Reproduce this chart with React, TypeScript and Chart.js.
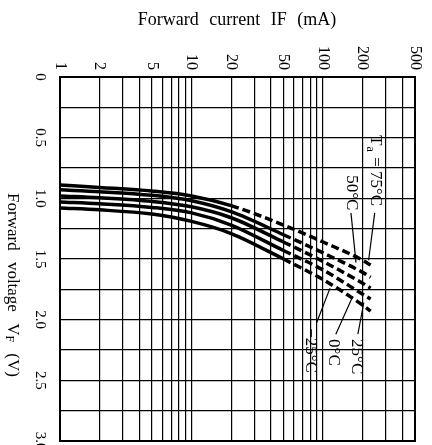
import React, { useEffect, useRef } from "react";
import { Chart, registerables } from "chart.js";

Chart.register(...registerables);

// Grid lines of the log current axis (mA)
const currentGrid = [1, 2, 3, 4, 5, 6, 7, 8, 9, 10, 20, 30, 40, 50, 60, 70, 80, 90, 100, 200, 300, 400, 500];
// Labelled current ticks (mA)
const currentTickLabels = [1, 2, 5, 10, 20, 50, 100, 200, 500];
// Voltage tick labels (V)
const voltageTickValues = [0, 0.5, 1.0, 1.5, 2.0, 2.5, 3.0];
const voltageTickLabels = ["0", "0.5", "1.0", "1.5", "2.0", "2.5", "3.0"];

// Forward current sample points (mA)
const forwardCurrent = [1, 2, 5, 10, 20, 50, 100, 200, 230];
// Forward voltage (V) per ambient temperature
const vf75 = [0.89, 0.91, 0.94, 0.98, 1.06, 1.22, 1.36, 1.51, 1.55];
const vf50 = [0.93, 0.945, 0.975, 1.02, 1.11, 1.3, 1.45, 1.61, 1.65];
const vf25 = [0.98, 0.995, 1.025, 1.07, 1.16, 1.36, 1.52, 1.7, 1.74];
const vf0 = [1.03, 1.045, 1.075, 1.12, 1.22, 1.43, 1.59, 1.79, 1.83];
const vfm25 = [1.08, 1.095, 1.13, 1.19, 1.29, 1.5, 1.67, 1.88, 1.93];
const seriesNames = ["75°C", "50°C", "25°C", "0°C", "−25°C"];
const seriesValues = [vf75, vf50, vf25, vf0, vfm25];
// current above which each curve is drawn dashed (mA)
const dashFrom = [20, 50, 50, 50, 50];

// Curve annotations: label anchor (current mA, voltage V) and leader line ends
const annoTexts = ["Ta = 75°C", "50°C", "−25°C", "0°C", "25°C"];
const annoCurrent = [251, 163, 80, 119, 180];
const annoVoltage = [0.48, 0.81, 2.07, 2.16, 2.16];
const leaderFromCurrent = [247, 163, 89, 125, 184];
const leaderFromVoltage = [1.12, 1.12, 2.03, 2.12, 2.12];
const leaderToCurrent = [222, 178, 113, 168, 204];
const leaderToVoltage = [1.51, 1.53, 1.74, 1.81, 1.86];

const SERIF = "'Liberation Serif', 'DejaVu Serif', serif";

const drawPlugin = {
  id: "datasheetDecor",
  afterDraw(chart: any) {
    const { ctx, chartArea } = chart;
    const xs = chart.scales.x;
    const ys = chart.scales.y;
    ctx.save();
    // frame
    ctx.strokeStyle = "#000";
    ctx.lineWidth = 2;
    ctx.strokeRect(chartArea.left, chartArea.top, chartArea.right - chartArea.left, chartArea.bottom - chartArea.top);

    ctx.fillStyle = "#000";
    // current tick labels, rotated clockwise
    ctx.font = `16px ${SERIF}`;
    currentTickLabels.forEach((v) => {
      const x = xs.getPixelForValue(v);
      ctx.save();
      ctx.translate(x, chartArea.top - 7);
      ctx.rotate(Math.PI / 2);
      ctx.textAlign = "right";
      ctx.textBaseline = "middle";
      ctx.fillText(String(v), 0, 0);
      ctx.restore();
    });
    // voltage tick labels, rotated clockwise
    ctx.font = `15px ${SERIF}`;
    voltageTickValues.forEach((v, i) => {
      const y = ys.getPixelForValue(v);
      ctx.save();
      ctx.translate(chartArea.left - 20, y);
      ctx.rotate(Math.PI / 2);
      ctx.textAlign = "center";
      ctx.textBaseline = "middle";
      ctx.fillText(voltageTickLabels[i], 0, 0);
      ctx.restore();
    });

    // top title
    ctx.font = `18px ${SERIF}`;
    (ctx as any).wordSpacing = "6px";
    ctx.textAlign = "center";
    ctx.textBaseline = "middle";
    ctx.fillText("Forward current IF (mA)", 237, 20);
    (ctx as any).wordSpacing = "0px";

    // left title, rotated clockwise, with subscript F
    ctx.save();
    ctx.translate(12, 285);
    ctx.rotate(Math.PI / 2);
    ctx.textBaseline = "middle";
    (ctx as any).wordSpacing = "7px";
    const p1 = "Forward voltage V";
    const sub = "F";
    const p2 = " (V)";
    ctx.font = `17px ${SERIF}`;
    const w1 = ctx.measureText(p1).width;
    const w3 = ctx.measureText(p2).width;
    ctx.font = `12px ${SERIF}`;
    const w2 = ctx.measureText(sub).width;
    const total = w1 + w2 + w3;
    let cx = -total / 2;
    ctx.textAlign = "left";
    ctx.font = `17px ${SERIF}`;
    ctx.fillText(p1, cx, 0);
    cx += w1;
    ctx.font = `12px ${SERIF}`;
    ctx.fillText(sub, cx, 3);
    cx += w2;
    ctx.font = `17px ${SERIF}`;
    ctx.fillText(p2, cx, 0);
    (ctx as any).wordSpacing = "0px";
    ctx.restore();

    // annotations
    ctx.lineWidth = 1.2;
    annoTexts.forEach((t, i) => {
      const x = xs.getPixelForValue(annoCurrent[i]);
      const y = ys.getPixelForValue(annoVoltage[i]);
      ctx.save();
      ctx.translate(x, y);
      ctx.rotate(Math.PI / 2);
      ctx.textBaseline = "middle";
      ctx.textAlign = "left";
      if (t.startsWith("Ta")) {
        ctx.font = `17px ${SERIF}`;
        ctx.fillText("T", 0, 0);
        const wT = ctx.measureText("T").width;
        ctx.font = `12px ${SERIF}`;
        ctx.fillText("a", wT + 1, 5);
        const wa = ctx.measureText("a").width;
        ctx.font = `17px ${SERIF}`;
        ctx.fillText(" = 75°C", wT + wa + 2, 0);
      } else {
        ctx.font = `17px ${SERIF}`;
        ctx.fillText(t, 0, 0);
      }
      ctx.restore();
      const fx = xs.getPixelForValue(leaderFromCurrent[i]);
      const fy = ys.getPixelForValue(leaderFromVoltage[i]);
      const tx = xs.getPixelForValue(leaderToCurrent[i]);
      const ty = ys.getPixelForValue(leaderToVoltage[i]);
      ctx.beginPath();
      ctx.moveTo(fx, fy);
      ctx.lineTo(tx, ty);
      ctx.stroke();
    });
    ctx.restore();
  },
};

export default function App() {
  const ref = useRef<HTMLCanvasElement | null>(null);
  useEffect(() => {
    if (!ref.current) return;
    const datasets = seriesValues.map((vals, si) => ({
      label: seriesNames[si],
      data: forwardCurrent.map((c, i) => ({ x: c, y: vals[i] })),
      borderColor: "#000",
      backgroundColor: "#000",
      borderWidth: 3.5,
      pointRadius: 0,
      cubicInterpolationMode: "monotone" as const,
      fill: false,
      segment: {
        borderDash: (ctx: any) => (ctx.p0.parsed.x >= dashFrom[si] - 0.01 ? [8, 4] : undefined),
      },
    }));
    const chart = new Chart(ref.current, {
      type: "line",
      data: { datasets },
      options: {
        animation: false,
        responsive: false,
        devicePixelRatio: 1,
        layout: { padding: { left: 60, right: 17, top: 77, bottom: 4 } },
        plugins: { legend: { display: false }, tooltip: { enabled: false } },
        scales: {
          x: {
            type: "logarithmic",
            position: "top",
            min: 1,
            max: 500,
            afterBuildTicks: (s: any) => {
              s.ticks = currentGrid.map((v) => ({ value: v }));
            },
            ticks: { display: false },
            grid: { color: "#000", lineWidth: 1.2, drawTicks: false },
            border: { display: false },
          },
          y: {
            type: "linear",
            reverse: true,
            min: 0,
            max: 3,
            ticks: { display: false, stepSize: 0.25 },
            grid: { color: "#000", lineWidth: 1.2, drawTicks: false },
            border: { display: false },
          },
        },
      },
      plugins: [drawPlugin],
    });
    return () => chart.destroy();
  }, []);
  return (
    <div style={{ position: "fixed", left: 0, top: 0, width: 432, height: 445, background: "#fff" }}>
      <canvas ref={ref} width={432} height={445} />
    </div>
  );
}
